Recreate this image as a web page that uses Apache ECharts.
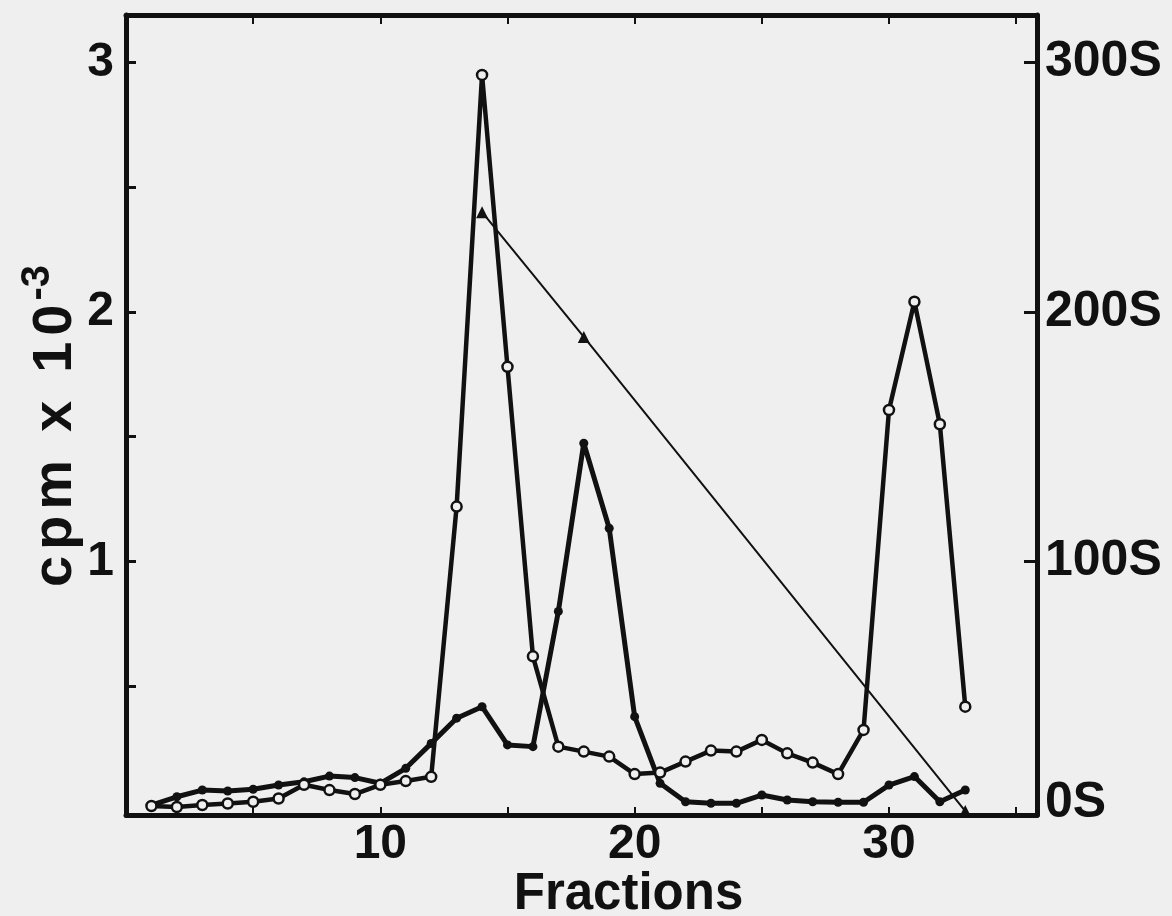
<!DOCTYPE html>
<html>
<head>
<meta charset="utf-8">
<script src="https://cdn.jsdelivr.net/npm/echarts@6/dist/echarts.min.js"></script>
<style>
  html, body { margin: 0; padding: 0; background: #efefef; }
  #chart { width: 1172px; height: 916px; }
</style>
</head>
<body>
<div id="chart"></div>
<script>
// Gradient fractions 1..33
const fractions = [1, 2, 3, 4, 5, 6, 7, 8, 9, 10, 11, 12, 13, 14, 15, 16, 17,
  18, 19, 20, 21, 22, 23, 24, 25, 26, 27, 28, 29, 30, 31, 32, 33];

// Open-circle profile (cpm x 10^-3)
const openCircleCpm = [0.02, 0.016, 0.024, 0.03, 0.037, 0.05, 0.105, 0.084, 0.068, 0.105,
  0.12, 0.137, 1.22, 2.95, 1.78, 0.62, 0.258, 0.238, 0.218, 0.148,
  0.154, 0.198, 0.242, 0.238, 0.285, 0.231, 0.194, 0.148, 0.325, 1.607,
  2.041, 1.55, 0.418];

// Filled-dot profile (cpm x 10^-3)
const filledDotCpm = [0.024, 0.057, 0.084, 0.08, 0.087, 0.104, 0.117, 0.14, 0.134, 0.111,
  0.171, 0.271, 0.372, 0.418, 0.265, 0.258, 0.8, 1.474, 1.133, 0.378,
  0.111, 0.037, 0.031, 0.031, 0.064, 0.044, 0.037, 0.035, 0.035, 0.104,
  0.138, 0.037, 0.084];

// Sedimentation markers (fraction, S value)
const markerFractions = [14, 18, 33];
const markerSvedberg = [240, 190, 0];

// Axis ticks and labels
const xTickValues = [5, 10, 15, 20, 25, 30, 35];
const xLabelValues = [10, 20, 30];
const leftTickValues = [0.5, 1, 1.5, 2, 2.5, 3];
const leftLabelValues = [1, 2, 3];
const rightTickValues = [100, 200, 300];
const rightLabelValues = [0, 100, 200, 300];

const INK = '#111111';
const PAPER = '#efefef';
const FONT = '"Liberation Sans", Arial, Helvetica, sans-serif';

const pairs = (xs, ys) => xs.map((x, i) => [x, ys[i]]);

const chart = echarts.init(document.getElementById('chart'), null, { renderer: 'canvas' });

const frameLine = { show: true, onZero: false, lineStyle: { color: INK, width: 5 } };

// Letter-spaced y-axis title styles
const titleChar = { fontSize: 56, fontWeight: 'bold', fontFamily: FONT, color: INK,
  verticalAlign: 'bottom', lineHeight: 66 };

chart.setOption({
  backgroundColor: PAPER,
  animation: false,
  grid: { left: 126, right: 135, top: 15, bottom: 101, containLabel: false,
    outerBoundsMode: 'none' },
  xAxis: [
    {
      type: 'value', position: 'bottom', min: 0, max: 35.82,
      axisLine: frameLine,
      axisTick: { show: true, inside: true, length: 8, customValues: xTickValues,
        lineStyle: { color: INK, width: 2 } },
      axisLabel: { show: true, customValues: xLabelValues, color: INK, fontSize: 48,
        fontWeight: 'bold', fontFamily: FONT, margin: 6 },
      splitLine: { show: false },
      name: 'Fractions', nameLocation: 'middle', nameGap: 54, nameMoveOverlap: false,
      nameTextStyle: { color: INK, fontSize: 51, fontWeight: 'bold', fontFamily: FONT,
        padding: [0, 0, 0, 94] }
    },
    {
      type: 'value', position: 'top', min: 0, max: 35.82,
      axisLine: frameLine,
      axisTick: { show: true, inside: true, length: 9, customValues: xTickValues,
        lineStyle: { color: INK, width: 2 } },
      axisLabel: { show: false },
      splitLine: { show: false }
    }
  ],
  yAxis: [
    {
      type: 'value', position: 'left', min: -0.016, max: 3.19,
      axisLine: frameLine,
      axisTick: { show: true, inside: true, length: 10, customValues: leftTickValues,
        lineStyle: { color: INK, width: 3 } },
      axisLabel: { show: true, customValues: leftLabelValues, color: INK, fontSize: 48,
        fontWeight: 'bold', fontFamily: FONT, margin: 12 },
      splitLine: { show: false },
      name: '{a|c}{a|p}{b|m}{x|x}{a|1}{b|0}{s|-3}',
      nameLocation: 'middle', nameGap: 42, nameRotate: 90, nameMoveOverlap: false,
      nameTextStyle: {
        color: INK, fontFamily: FONT, fontWeight: 'bold',
        padding: [0, 22, 0, 0],
        rich: {
          a: Object.assign({}, titleChar, { padding: [0, 6, 0, 0] }),
          b: Object.assign({}, titleChar),
          x: Object.assign({}, titleChar, { padding: [0, 28, 0, 28] }),
          s: { fontSize: 40, fontWeight: 'bold', fontFamily: FONT, color: INK,
            verticalAlign: 'top', lineHeight: 42, padding: [0, 0, 0, 4] }
        }
      }
    },
    {
      type: 'value', position: 'right', min: -1.6, max: 319,
      axisLine: frameLine,
      axisTick: { show: true, inside: true, length: 13, customValues: rightTickValues,
        lineStyle: { color: INK, width: 3 } },
      axisLabel: {
        show: true, customValues: rightLabelValues, color: INK, fontSize: 50,
        fontWeight: 'bold', fontFamily: FONT, margin: 8,
        formatter: v => (v === 0 ? '{z|0S}' : v + 'S'),
        rich: { z: { fontSize: 50, fontWeight: 'bold', fontFamily: FONT, color: INK,
          padding: [0, 0, 16, 0] } }
      },
      splitLine: { show: false }
    }
  ],
  series: [
    {
      name: 'open', type: 'line', xAxisIndex: 0, yAxisIndex: 0,
      data: pairs(fractions, openCircleCpm),
      symbol: 'circle', symbolSize: 10, showSymbol: true,
      lineStyle: { color: INK, width: 4.5 },
      itemStyle: { color: PAPER, borderColor: INK, borderWidth: 2.5 },
      z: 3
    },
    {
      name: 'filled', type: 'line', xAxisIndex: 0, yAxisIndex: 0,
      data: pairs(fractions, filledDotCpm),
      symbol: 'circle', symbolSize: 9, showSymbol: true,
      lineStyle: { color: INK, width: 5 },
      itemStyle: { color: INK },
      z: 2
    },
    {
      name: 'markers', type: 'line', xAxisIndex: 0, yAxisIndex: 1,
      data: pairs(markerFractions, markerSvedberg),
      symbol: 'triangle', symbolSize: 12, showSymbol: true,
      lineStyle: { color: INK, width: 2 },
      itemStyle: { color: INK },
      z: 4
    }
  ]
});
</script>
</body>
</html>
